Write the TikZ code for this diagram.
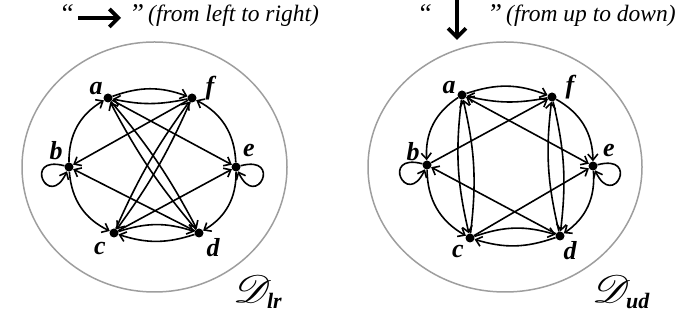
\documentclass[tikz,border=0pt]{standalone}
\usepackage{fontspec}
\setmainfont{Liberation Serif}
\usepackage{mathrsfs}
\usepackage{graphicx}
\usetikzlibrary{arrows.meta}
\tikzset{
  dot/.style={circle,fill=black,inner sep=0pt,minimum size=9pt},
  lbl/.style={font=\fontsize{26}{26}\selectfont\bfseries\itshape,inner sep=0pt},
  link/.style={line width=1.6pt,-{Straight Barb[length=6pt,width=10pt]}},
  twoway/.style={line width=1.6pt,{Straight Barb[length=6pt,width=10pt]}-{Straight Barb[length=6pt,width=10pt]}},
  hdr/.style={font=\fontsize{23.5}{23.5}\selectfont\itshape,inner sep=0pt,anchor=base west},
  qmark/.style={font=\fontsize{27}{27}\selectfont\itshape,inner sep=0pt,anchor=base west},
  bigarrow/.style={line width=3.8pt,-{Straight Barb[length=9pt,width=18pt]}},
  oval/.style={draw=black!38,line width=1.5pt},
  dname/.style={inner sep=0pt,anchor=base west}
}
\newcommand{\bigD}{\scalebox{1.8}[1.55]{\fontsize{24.88}{24.88}\selectfont$\mathscr{D}$}}
\begin{document}
\begin{tikzpicture}[x=1pt,y=1pt]
\useasboundingbox (0,0) rectangle (680,320);
% header left
\node[qmark] (ql1) at (59,297) {“};
\coordinate (al1) at (78,302);
\coordinate (al2) at (121,302);
\draw[bigarrow] (al1) -- (al2);
\node[qmark] (ql2) at (129,297) {”};
\node[hdr] (tl) at (148,298) {(from left to right)};
% header right
\node[qmark] (qr1) at (417,297) {“};
\coordinate (ar1) at (457,320);
\coordinate (ar2) at (457,280);
\draw[bigarrow] (ar1) -- (ar2);
\node[qmark] (qr2) at (487,297) {”};
\node[hdr] (tr) at (506,298) {(from up to down)};
% ovals
\draw[oval] (154.5,153) ellipse [x radius=132.5pt, y radius=125pt];
\draw[oval] (505,153) ellipse [x radius=137pt, y radius=125pt];
% left graph nodes
\node[dot] (La) at (108,222) {};
\node[dot] (Lf) at (192,222) {};
\node[dot] (Lb) at (69,153) {};
\node[dot] (Le) at (236,153) {};
\node[dot] (Lc) at (114,87) {};
\node[dot] (Ld) at (199,87) {};
\node[lbl] (La-l) at (96,231) {a};
\node[lbl] (Lf-l) at (210,232) {f};
\node[lbl] (Lb-l) at (56,169) {b};
\node[lbl] (Le-l) at (249,169) {e};
\node[lbl] (Lc-l) at (100,71) {c};
\node[lbl] (Ld-l) at (213,72) {d};
% left edges
\draw[link] (La) to[bend left=20] (Lf);
\draw[link] (Lf) to[bend left=12] (La);
\draw[link] (Lc) to[bend left=18] (Ld);
\draw[link] (Ld) to[bend left=18] (Lc);
\draw[link] (Lb) to[bend left=30] (La);
\draw[link] (Lb) to[bend right=30] (Lc);
\draw[link] (Le) to[bend right=30] (Lf);
\draw[link] (Le) to[bend left=30] (Ld);
\draw[link] (La) -- (Le);
\draw[link] (Lf) -- (Lb);
\draw[link] (Ld) -- (Lb);
\draw[link] (Lc) -- (Le);
\draw[link] (La) to[bend left=6] (Ld);
\draw[link] (Ld) to[bend left=6] (La);
\draw[link] (Lc) to[bend left=6] (Lf);
\draw[link] (Lf) to[bend left=6] (Lc);
\draw[link] (Lb) to[out=165,in=245,looseness=8,min distance=44pt] (Lb);
\draw[link] (Le) to[out=15,in=295,looseness=8,min distance=44pt] (Le);
% right graph nodes
\node[dot] (Ra) at (462,225) {};
\node[dot] (Rf) at (552,223) {};
\node[dot] (Rb) at (427,155) {};
\node[dot] (Re) at (593,154) {};
\node[dot] (Rc) at (470,82) {};
\node[dot] (Rd) at (560,84) {};
\node[lbl] (Ra-l) at (449,232) {a};
\node[lbl] (Rf-l) at (570,233) {f};
\node[lbl] (Rb-l) at (413,168) {b};
\node[lbl] (Re-l) at (609,169) {e};
\node[lbl] (Rc-l) at (458,68) {c};
\node[lbl] (Rd-l) at (570,69) {d};
% right edges
\draw[link] (Ra) to[bend left=20] (Rf);
\draw[link] (Rf) to[bend left=12] (Ra);
\draw[link] (Rc) to[bend left=18] (Rd);
\draw[link] (Rd) to[bend left=18] (Rc);
\draw[link] (Ra) to[bend right=30] (Rb);
\draw[link] (Rb) to[bend right=30] (Rc);
\draw[link] (Rf) to[bend left=30] (Re);
\draw[link] (Re) to[bend left=30] (Rd);
\draw[link] (Ra) to[bend right=10] (Rc);
\draw[link] (Rc) to[bend right=10] (Ra);
\draw[link] (Rf) to[bend left=10] (Rd);
\draw[link] (Rd) to[bend left=10] (Rf);
\draw[link] (Rb) -- (Rf);
\draw[twoway] (Ra) -- (Re);
\draw[link] (Rd) -- (Rb);
\draw[link] (Rc) -- (Re);
\draw[link] (Rb) to[out=165,in=245,looseness=8,min distance=44pt] (Rb);
\draw[link] (Re) to[out=15,in=295,looseness=8,min distance=44pt] (Re);
% graph names
\node[dname] (Dlr) at (233,17) {\bigD\kern-5pt\raisebox{-6pt}{\fontsize{22}{22}\selectfont\bfseries\itshape lr}};
\node[dname] (Dud) at (592,17) {\bigD\kern-5pt\raisebox{-6pt}{\fontsize{22}{22}\selectfont\bfseries\itshape ud}};
\end{tikzpicture}
\end{document}
